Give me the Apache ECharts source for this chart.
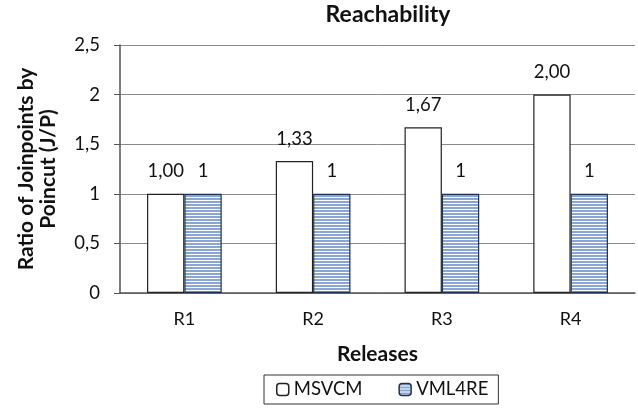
<!DOCTYPE html>
<html>
<head>
<meta charset="utf-8">
<script src="https://cdn.jsdelivr.net/npm/echarts@6/dist/echarts.min.js"></script>
<style>html,body{margin:0;padding:0;background:#fff}#c{width:638px;height:408px}</style>
</head>
<body>
<div id="c"></div>
<script>
var categories = ['R1', 'R2', 'R3', 'R4'];
var msvcm = [1.00, 1.33, 1.67, 2.00];
var vml4re = [1, 1, 1, 1];
var yTicks = [0, 0.5, 1, 1.5, 2, 2.5];

function stripe() {
  var c = document.createElement('canvas');
  c.width = 4; c.height = 3;
  var g = c.getContext('2d');
  g.fillStyle = '#ffffff'; g.fillRect(0, 0, 4, 3);
  g.fillStyle = '#8aa6d6'; g.fillRect(0, 0, 4, 2);
  return c;
}
var pat = { image: stripe(), repeat: 'repeat' };
var FONT = 'Lato';
var chart = echarts.init(document.getElementById('c'));
chart.setOption({
  animation: false,
  textStyle: { fontFamily: FONT },
  title: {
    text: 'Reachability', left: 388, top: 3, textAlign: 'center', padding: 0,
    textStyle: { fontFamily: FONT, fontSize: 23, fontWeight: 'bold', color: '#111' }
  },
  legend: {
    left: 264, top: 375,
    padding: [5, 10, 5, 12],
    borderColor: '#333', borderWidth: 1,
    itemWidth: 12, itemHeight: 12, itemGap: 36,
    textStyle: { fontFamily: FONT, fontSize: 18.5, color: '#111' },
    data: [
      { name: 'MSVCM', itemStyle: { color: '#fff', borderColor: '#222', borderWidth: 1.5 } },
      { name: 'VML4RE', itemStyle: { color: pat, borderColor: '#1f3350', borderWidth: 1.5 } }
    ]
  },
  grid: { left: 120, right: 3, top: 45, bottom: 115 },
  xAxis: {
    type: 'category', data: categories,
    name: 'Releases', nameLocation: 'middle', nameGap: 51,
    nameTextStyle: { fontFamily: FONT, fontSize: 21, fontWeight: 'bold', color: '#111' },
    axisLine: { lineStyle: { color: '#555', width: 1.5 } },
    axisTick: { show: false },
    axisLabel: { margin: 17, fontSize: 18, color: '#111', fontFamily: FONT }
  },
  yAxis: {
    type: 'value', min: 0, max: 2.5, interval: 0.5,
    name: 'Ratio of Joinpoints by\nPoincut (J/P)', nameLocation: 'middle', nameGap: 61,
    nameRotate: 90,
    nameTextStyle: { fontFamily: FONT, fontSize: 21, fontWeight: 'bold', color: '#111', lineHeight: 22 },
    axisLine: { show: true, lineStyle: { color: '#555', width: 1.5 } },
    axisTick: { show: true, length: 6, lineStyle: { color: '#555' } },
    splitLine: { lineStyle: { color: '#8a8a8a', width: 1 } },
    axisLabel: {
      margin: 20, fontSize: 18.5, color: '#111', fontFamily: FONT,
      formatter: function (v) { return String(v).replace('.', ','); }
    }
  },
  series: [
    {
      name: 'MSVCM', type: 'bar', data: msvcm, barGap: '0%', barCategoryGap: '42%',
      itemStyle: { color: '#fff', borderColor: '#222', borderWidth: 1.2 },
      label: {
        show: true, position: 'top', distance: 13, fontSize: 18.5, color: '#111', fontFamily: FONT,
        formatter: function (p) { return p.value.toFixed(2).replace('.', ','); }
      }
    },
    {
      name: 'VML4RE', type: 'bar', data: vml4re,
      itemStyle: { color: pat, borderColor: '#1f3350', borderWidth: 1.2 },
      label: {
        show: true, position: 'top', distance: 13, fontSize: 18.5, color: '#111', fontFamily: FONT,
        formatter: function (p) { return String(p.value); }
      }
    }
  ]
});
</script>
</body>
</html>
